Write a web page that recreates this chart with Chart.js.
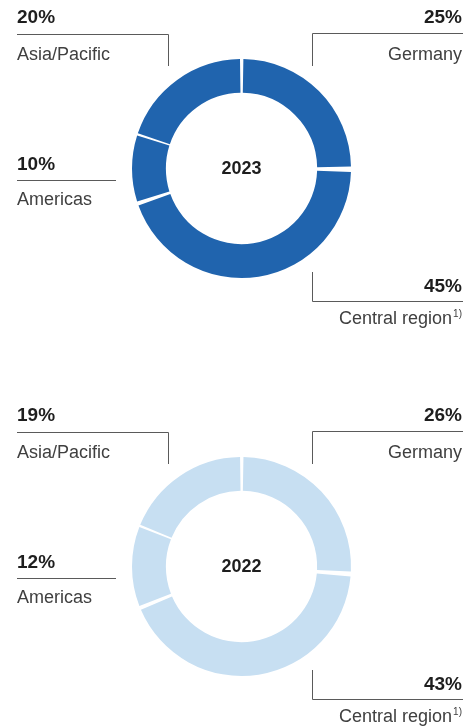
<!DOCTYPE html>
<html>
<head>
<meta charset="utf-8">
<script src="https://cdn.jsdelivr.net/npm/chart.js@4.4.0/dist/chart.umd.min.js"></script>
<style>
  html, body { margin: 0; padding: 0; background: #fff; }
  .wrap { position: relative; width: 463px; }
  canvas { display: block; }
</style>
</head>
<body>
<div class="wrap" style="height:398px"><canvas id="chart-1" width="463" height="398"></canvas></div>
<div class="wrap" style="height:330px"><canvas id="chart-2" width="463" height="330"></canvas></div>
<script>
// ---- data ----
const regions = ['Germany', 'Central region', 'Americas', 'Asia/Pacific'];
const footnotes = ['', '1)', '', ''];
const years = ['2023', '2022'];
const share2023 = [25, 45, 10, 20];
const share2022 = [26, 43, 12, 19];
const ringColors = ['#2064ae', '#c7dff2'];

// ---- look ----
const FONT = '"Liberation Sans", Arial, sans-serif';
const TEXT_DARK = '#1e1e1e';
const TEXT_LABEL = '#404040';
const LINE_COLOR = '#5a5a5a';

// callout placement per region (same order as regions)
const callouts = [
  { align: 'right', x: 462, pctY: 23, labelY: 60, line: [[312.5, 66], [312.5, 33.5], [463, 33.5]] },
  { align: 'right', x: 462, pctY: 292, labelY: 324, line: [[312.5, 272], [312.5, 301.5], [463, 301.5]] },
  { align: 'left', x: 17, pctY: 170, labelY: 205, line: [[17, 180.5], [116, 180.5]] },
  { align: 'left', x: 17, pctY: 23, labelY: 60, line: [[17, 34.5], [168.5, 34.5], [168.5, 66]] }
];

// draws the year in the hole and the corner labels with their leader lines
const calloutPlugin = {
  id: 'callouts',
  afterDraw(chart, args, opts) {
    const ctx = chart.ctx;
    const values = chart.data.datasets[0].data;
    const arc = chart.getDatasetMeta(0).data[0];

    ctx.save();
    // year in the centre
    ctx.fillStyle = TEXT_DARK;
    ctx.font = `bold 18px ${FONT}`;
    ctx.textAlign = 'center';
    ctx.textBaseline = 'middle';
    ctx.fillText(opts.year, arc.x, arc.y + 1);

    ctx.textBaseline = 'alphabetic';
    callouts.forEach((c, i) => {
      // leader line
      ctx.strokeStyle = LINE_COLOR;
      ctx.lineWidth = 1;
      ctx.beginPath();
      c.line.forEach(([px, py], k) => (k ? ctx.lineTo(px, py) : ctx.moveTo(px, py)));
      ctx.stroke();

      // percentage
      ctx.textAlign = c.align;
      ctx.fillStyle = TEXT_DARK;
      ctx.font = `bold 19px ${FONT}`;
      ctx.fillText(values[i] + '%', c.x, c.pctY);

      // region name (+ footnote)
      ctx.fillStyle = TEXT_LABEL;
      let endX = c.x;
      if (footnotes[i]) {
        ctx.font = `10px ${FONT}`;
        ctx.textAlign = 'right';
        ctx.fillText(footnotes[i], c.x, c.labelY - 7);
        endX = c.x - ctx.measureText(footnotes[i]).width - 1;
      }
      ctx.font = `18px ${FONT}`;
      ctx.textAlign = c.align;
      ctx.fillText(regions[i], endX, c.labelY);
    });
    ctx.restore();
  }
};

function makeChart(id, values, color, year, bottomPad) {
  return new Chart(document.getElementById(id), {
    type: 'doughnut',
    data: {
      labels: regions,
      datasets: [{
        data: values,
        backgroundColor: color,
        borderWidth: 0,
        hoverOffset: 0,
        offset: 0
      }]
    },
    options: {
      responsive: false,
      animation: false,
      cutout: '68.5%',
      spacing: 4,
      layout: { padding: { left: 132, right: 112, top: 59, bottom: bottomPad } },
      events: [],
      plugins: {
        legend: { display: false },
        tooltip: { enabled: false },
        callouts: { year }
      }
    },
    plugins: [calloutPlugin]
  });
}

makeChart('chart-1', share2023, ringColors[0], years[0], 120);
makeChart('chart-2', share2022, ringColors[1], years[1], 52);
</script>
</body>
</html>
